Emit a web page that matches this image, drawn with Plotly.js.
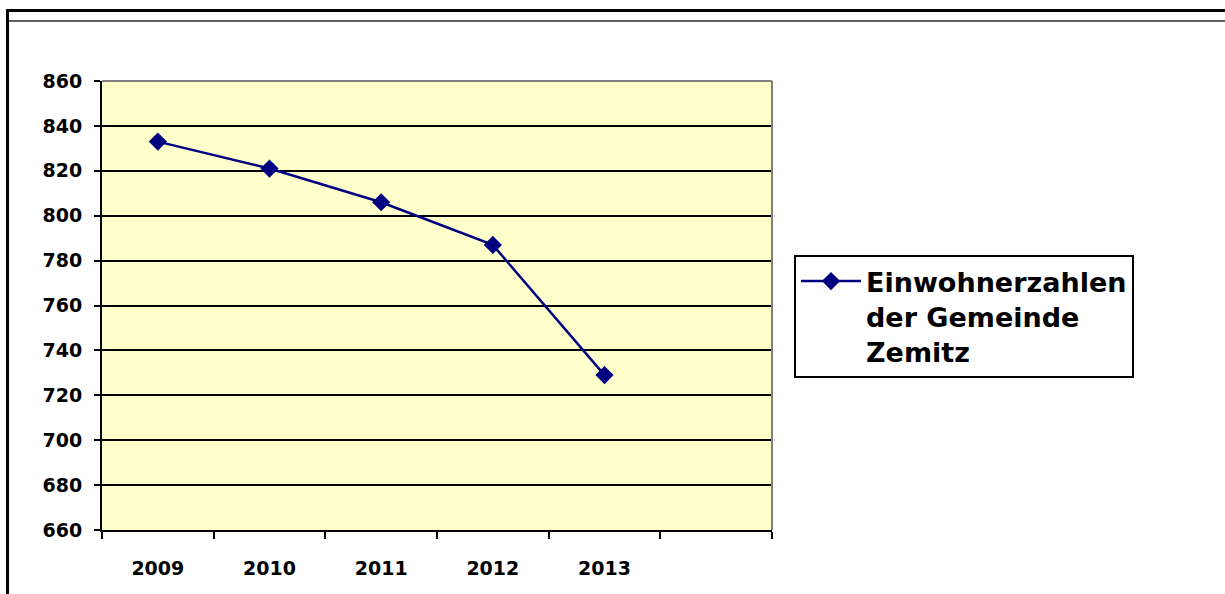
<!DOCTYPE html>
<html>
<head>
<meta charset="utf-8">
<script src="https://cdn.plot.ly/plotly-3.0.1.min.js"></script>
<style>html,body{margin:0;padding:0;background:#fff;}#chart{width:1225px;height:594px;}</style>
</head>
<body>
<div id="chart"></div>
<script>
var years = ['2009', '2010', '2011', '2012', '2013'];
var categorySlots = ['2009', '2010', '2011', '2012', '2013', ' '];
var population = [833, 821, 806, 787, 729];
var yTicks = [660, 680, 700, 720, 740, 760, 780, 800, 820, 840, 860];
var seriesName = 'Einwohnerzahlen<br>der Gemeinde<br>Zemitz';

var FONT = 'DejaVu Sans, Liberation Sans, Arial, sans-serif';

var trace = {
  x: years,
  y: population,
  type: 'scatter',
  mode: 'lines+markers',
  name: seriesName,
  line: {color: '#000080', width: 2.5},
  marker: {symbol: 'diamond', size: 14, color: '#000080', line: {width: 0}},
  showlegend: true
};

var W = 670, H = 449, L = 102, T = 81;
function px(x) { return (x - L) / W; }
function py(y) { return (T + H - y) / H; }

var layout = {
  width: 1225,
  height: 594,
  margin: {l: L, r: 1225 - L - W, t: T, b: 594 - T - H, pad: 0},
  paper_bgcolor: '#ffffff',
  plot_bgcolor: '#FFFFCC',
  font: {family: FONT, size: 19, color: '#000000', weight: 'bold'},
  showlegend: true,
  xaxis: {
    type: 'category',
    categoryorder: 'array',
    categoryarray: categorySlots,
    range: [-0.5, 5.5],
    tickson: 'boundaries',
    ticks: 'outside',
    ticklen: 7,
    tickwidth: 2,
    tickcolor: '#000000',
    showgrid: false,
    showline: true,
    linecolor: '#000000',
    linewidth: 2,
    ticklabelstandoff: 20,
    tickfont: {family: FONT, size: 19, color: '#000000', weight: 'bold'},
    zeroline: false,
    fixedrange: true
  },
  yaxis: {
    range: [660, 860],
    tickvals: yTicks,
    ticktext: yTicks.map(String),
    ticks: 'outside',
    ticklen: 6,
    tickwidth: 2,
    tickcolor: '#000000',
    showgrid: true,
    gridcolor: '#000000',
    gridwidth: 2,
    showline: true,
    linecolor: '#000000',
    linewidth: 2,
    ticklabelstandoff: 8,
    tickfont: {family: FONT, size: 19, color: '#000000', weight: 'bold'},
    zeroline: false,
    fixedrange: true
  },
  legend: {
    x: px(794),
    y: py(255),
    xanchor: 'left',
    yanchor: 'top',
    bgcolor: '#ffffff',
    bordercolor: '#000000',
    borderwidth: 2,
    valign: 'top',
    itemwidth: 60,
    font: {family: FONT, size: 27, color: '#000000', weight: 'bold'}
  },
  shapes: [
    {type: 'line', xref: 'paper', yref: 'paper', x0: 0, x1: 1, y0: 1, y1: 1,
     line: {color: '#808080', width: 2}, layer: 'above'},
    {type: 'line', xref: 'paper', yref: 'paper', x0: 1, x1: 1, y0: 0, y1: 1,
     line: {color: '#808080', width: 2}, layer: 'above'},
    {type: 'line', xref: 'paper', yref: 'paper', x0: px(6), x1: px(1225), y0: py(10.5), y1: py(10.5),
     line: {color: '#000000', width: 3}, layer: 'above'},
    {type: 'line', xref: 'paper', yref: 'paper', x0: px(9), x1: px(1225), y0: py(21), y1: py(21),
     line: {color: '#606060', width: 2}, layer: 'above'},
    {type: 'line', xref: 'paper', yref: 'paper', x0: px(7.5), x1: px(7.5), y0: py(9), y1: py(594),
     line: {color: '#000000', width: 3}, layer: 'above'}
  ]
};

Plotly.newPlot('chart', [trace], layout, {staticPlot: true, displayModeBar: false});
</script>
</body>
</html>
